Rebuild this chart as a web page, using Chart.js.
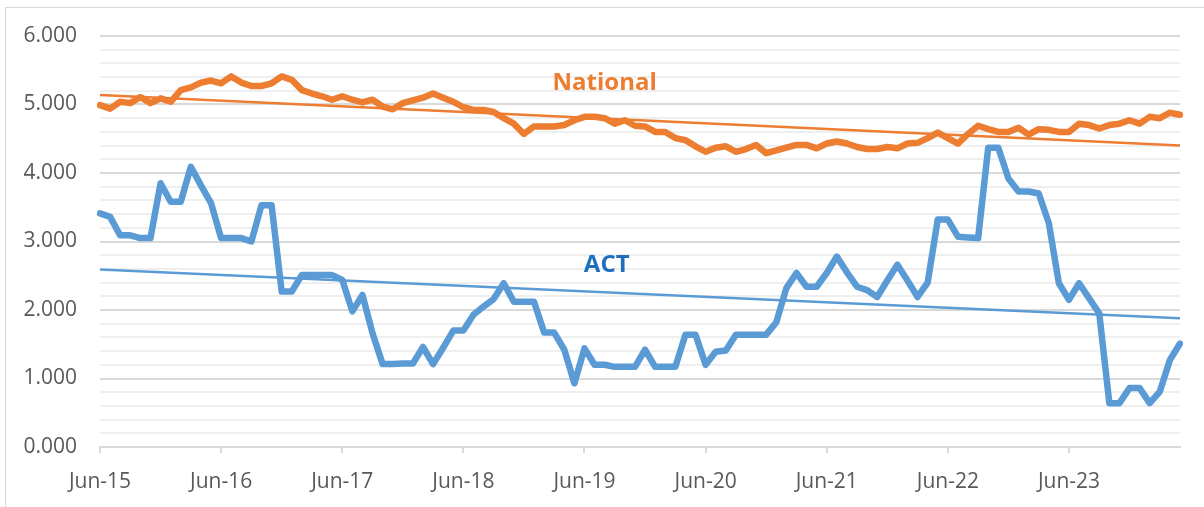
<!DOCTYPE html>
<html>
<head>
<meta charset="utf-8">
<script src="https://cdn.jsdelivr.net/npm/chart.js@4.4.1/dist/chart.umd.min.js"></script>
<style>
  html, body { margin: 0; padding: 0; background: #fff; overflow: hidden; }
  #wrap { position: relative; width: 1204px; height: 507px; }
  #frame { position: absolute; left: 5px; top: 7px; width: 1300px; height: 600px;
           border: 1px solid #d9d9d9; box-sizing: border-box; }
  #chart { position: absolute; left: 0; top: 0; }
</style>
</head>
<body>
<div id="wrap">
  <div id="frame"></div>
  <canvas id="chart" width="1204" height="507"></canvas>
</div>
<script>
// monthly categories, Jun-15 .. May-24
var months = [
    'Jun-15','Jul-15','Aug-15','Sep-15','Oct-15','Nov-15','Dec-15','Jan-16','Feb-16','Mar-16','Apr-16','May-16',
    'Jun-16','Jul-16','Aug-16','Sep-16','Oct-16','Nov-16','Dec-16','Jan-17','Feb-17','Mar-17','Apr-17','May-17',
    'Jun-17','Jul-17','Aug-17','Sep-17','Oct-17','Nov-17','Dec-17','Jan-18','Feb-18','Mar-18','Apr-18','May-18',
    'Jun-18','Jul-18','Aug-18','Sep-18','Oct-18','Nov-18','Dec-18','Jan-19','Feb-19','Mar-19','Apr-19','May-19',
    'Jun-19','Jul-19','Aug-19','Sep-19','Oct-19','Nov-19','Dec-19','Jan-20','Feb-20','Mar-20','Apr-20','May-20',
    'Jun-20','Jul-20','Aug-20','Sep-20','Oct-20','Nov-20','Dec-20','Jan-21','Feb-21','Mar-21','Apr-21','May-21',
    'Jun-21','Jul-21','Aug-21','Sep-21','Oct-21','Nov-21','Dec-21','Jan-22','Feb-22','Mar-22','Apr-22','May-22',
    'Jun-22','Jul-22','Aug-22','Sep-22','Oct-22','Nov-22','Dec-22','Jan-23','Feb-23','Mar-23','Apr-23','May-23',
    'Jun-23','Jul-23','Aug-23','Sep-23','Oct-23','Nov-23','Dec-23','Jan-24','Feb-24','Mar-24','Apr-24','May-24'
];

// labels shown on the x axis
var yearTicks = ['Jun-15','Jun-16','Jun-17','Jun-18','Jun-19','Jun-20','Jun-21','Jun-22','Jun-23'];

var national = [
    4.99,4.94,5.04,5.02,5.11,5.02,5.09,5.04,5.21,5.25,5.32,5.35,
    5.31,5.41,5.32,5.27,5.27,5.31,5.41,5.36,5.21,5.16,5.12,5.07,
    5.12,5.07,5.03,5.07,4.97,4.93,5.02,5.06,5.10,5.16,5.10,5.04,
    4.96,4.92,4.92,4.89,4.80,4.72,4.57,4.68,4.68,4.68,4.70,4.77,
    4.82,4.82,4.80,4.72,4.77,4.69,4.68,4.60,4.60,4.51,4.48,4.39,
    4.31,4.37,4.39,4.31,4.35,4.41,4.29,4.33,4.37,4.41,4.41,4.36,
    4.43,4.46,4.43,4.38,4.35,4.35,4.38,4.36,4.43,4.44,4.51,4.59,
    4.51,4.43,4.57,4.69,4.64,4.60,4.60,4.66,4.56,4.64,4.63,4.60,
    4.60,4.72,4.70,4.65,4.70,4.72,4.77,4.72,4.82,4.80,4.88,4.85
];

var act = [
    3.41,3.36,3.09,3.09,3.05,3.05,3.85,3.58,3.58,4.09,3.82,3.56,
    3.05,3.05,3.05,3.00,3.53,3.53,2.27,2.27,2.51,2.51,2.51,2.51,
    2.44,1.98,2.22,1.66,1.21,1.21,1.22,1.22,1.46,1.21,1.45,1.70,
    1.70,1.93,2.05,2.16,2.39,2.12,2.12,2.12,1.67,1.67,1.42,0.93,
    1.44,1.20,1.20,1.17,1.17,1.17,1.42,1.17,1.17,1.17,1.64,1.64,
    1.20,1.39,1.41,1.64,1.64,1.64,1.64,1.82,2.32,2.54,2.34,2.34,
    2.54,2.78,2.55,2.34,2.29,2.19,2.43,2.66,2.43,2.19,2.40,3.32,
    3.32,3.07,3.06,3.05,4.37,4.37,3.92,3.73,3.73,3.70,3.27,2.39,
    2.15,2.39,2.17,1.95,0.64,0.64,0.86,0.86,0.64,0.81,1.27,1.51
];

// linear trend lines: value at first and last month
var nationalTrend = [5.14, 4.40];
var actTrend = [2.59, 1.88];

function trendSeries(ends) {
    var arr = months.map(function() { return null; });
    arr[0] = ends[0];
    arr[arr.length - 1] = ends[1];
    return arr;
}

var ORANGE = '#ED7D31';
var BLUE = '#5B9BD5';

var seriesLabels = {
    id: 'seriesLabels',
    afterDatasetsDraw: function(chart) {
        var c = chart.ctx, x = chart.scales.x, y = chart.scales.y;
        c.save();
        c.font = 'bold 24px "Open Sans"';
        c.textAlign = 'center';
        c.textBaseline = 'middle';
        c.fillStyle = ORANGE;
        c.fillText('National', x.getPixelForValue(50), y.getPixelForValue(5.31));
        c.fillStyle = '#1F6FBF';
        c.fillText('ACT', x.getPixelForValue(50.2), y.getPixelForValue(2.66));
        c.restore();
    }
};

Chart.defaults.font.family = '"Open Sans", sans-serif';
Chart.defaults.font.size = 21;
Chart.defaults.color = '#595959';

new Chart(document.getElementById('chart').getContext('2d'), {
    type: 'line',
    data: {
        labels: months,
        datasets: [
            { data: act, borderColor: BLUE, borderWidth: 6.5, pointRadius: 0, tension: 0,
              borderJoinStyle: 'round', borderCapStyle: 'round' },
            { data: national, borderColor: ORANGE, borderWidth: 6.5, pointRadius: 0, tension: 0,
              borderJoinStyle: 'round', borderCapStyle: 'round' },
            { data: trendSeries(actTrend), borderColor: BLUE, borderWidth: 2.5, pointRadius: 0, spanGaps: true },
            { data: trendSeries(nationalTrend), borderColor: ORANGE, borderWidth: 2.5, pointRadius: 0, spanGaps: true }
        ]
    },
    options: {
        responsive: false,
        devicePixelRatio: 1,
        animation: false,
        layout: { padding: { top: 36, right: 24, left: 0, bottom: 0 } },
        plugins: { legend: { display: false }, tooltip: { enabled: false } },
        scales: {
            x: {
                offset: false,
                afterFit: function(s) { s.height = 60; },
                border: { display: true, color: '#d9d9d9', width: 2 },
                grid: {
                    offset: false,
                    drawOnChartArea: false,
                    tickLength: 6,
                    lineWidth: 2,
                    color: function(ctx) {
                        return yearTicks.indexOf(months[ctx.index]) >= 0 ? '#d9d9d9' : 'rgba(0,0,0,0)';
                    }
                },
                ticks: {
                    autoSkip: false,
                    maxRotation: 0,
                    minRotation: 0,
                    padding: 16,
                    callback: function(v, i) {
                        return yearTicks.indexOf(months[i]) >= 0 ? months[i] : '';
                    }
                }
            },
            y: {
                min: 0,
                max: 6,
                afterFit: function(s) { s.width = 100; },
                border: { display: false },
                grid: {
                    drawTicks: false,
                    lineWidth: 2,
                    color: function(ctx) {
                        var v = ctx.tick.value;
                        return Math.abs(v - Math.round(v)) < 1e-6 ? '#d9d9d9' : '#efefef';
                    }
                },
                ticks: {
                    stepSize: 0.2,
                    padding: 23,
                    autoSkip: false,
                    callback: function(v) {
                        return Math.abs(v - Math.round(v)) < 1e-6 ? v.toFixed(3) : '';
                    }
                }
            }
        }
    },
    plugins: [seriesLabels]
});
</script>
</body>
</html>
